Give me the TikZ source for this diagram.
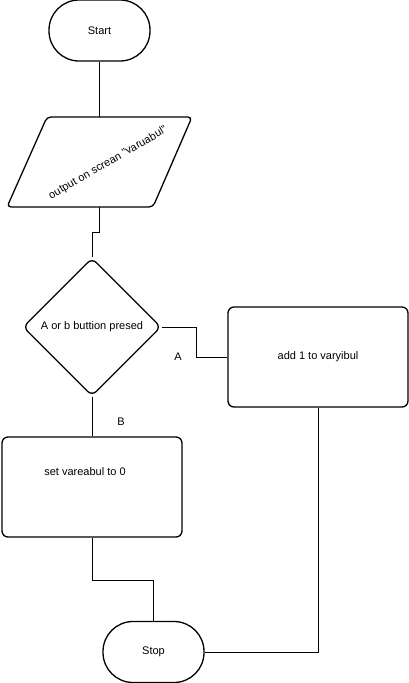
\documentclass[tikz,border=0pt]{standalone}
\usepackage{fontspec}
\setmainfont{Liberation Sans}
\usetikzlibrary{shapes.geometric}
\begin{document}
\begin{tikzpicture}[x=1pt,y=-1pt,
  every node/.style={font=\fontsize{11}{13}\selectfont, inner sep=0pt},
  shapeline/.style={draw, line width=1.3pt},
  terminal/.style={shapeline, rectangle, rounded corners=30pt, minimum width=101pt, minimum height=61pt},
  procbox/.style={shapeline, rectangle, rounded corners=6pt, minimum width=180pt, minimum height=100pt},
  decision/.style={shapeline, diamond, aspect=1, rounded corners=6pt, minimum width=138pt, minimum height=138pt},
  conn/.style={draw, line width=0.8pt},
  lbl/.style={font=\fontsize{11}{13}\selectfont}]
\useasboundingbox (0,0) rectangle (409,683);
% Start
\node[terminal] (start) at (99.5,30.5) {Start};
% parallelogram
\draw[shapeline, rounded corners=4pt] (47,117) -- (192,117) -- (153,207) -- (7,207) -- cycle;
\coordinate (ptop) at (99.5,117);
\coordinate (pbot) at (99,207);
\node[rotate=30] (par) at (108,163) {output on screan "varuabul"};
% decision
\node[decision] (dia) at (92,327) {A or b buttion presed};
% add box
\node[procbox] (add) at (318,357) {};
\node (addt) at (318,357) {add 1 to varyibul};
% set box
\node[procbox] (setb) at (92,487) {};
\node (sett) at (85,472) {set vareabul to 0};
% stop
\node[terminal] (stop) at (153.5,652) {Stop};
% connectors
\draw[conn] (start.south) -- (ptop);
\draw[conn] (pbot) -- ++(0,25) -| (dia.north);
\draw[conn] (dia.east) -- ++(35,0) |- (add.west);
\node[lbl] (la) at (178,357) {A};
\draw[conn] (dia.south) -- (setb.north);
\node[lbl] (lb) at (121,422) {B};
\draw[conn] (setb.south) -- ++(0,43) -| (stop.north);
\draw[conn] (add.south) |- (stop.east);
\end{tikzpicture}
\end{document}
